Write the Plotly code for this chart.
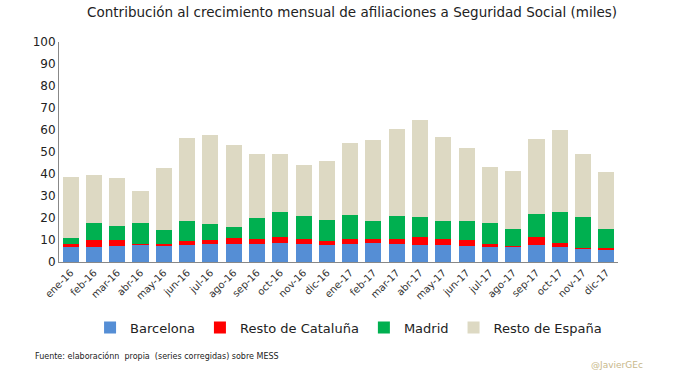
import plotly.graph_objects as go

months = ["ene-16","feb-16","mar-16","abr-16","may-16","jun-16","jul-16","ago-16","sep-16","oct-16","nov-16","dic-16",
          "ene-17","feb-17","mar-17","abr-17","may-17","jun-17","jul-17","ago-17","sep-17","oct-17","nov-17","dic-17"]
barcelona = [7.0,7.0,7.4,7.9,7.4,7.9,8.3,8.3,8.3,8.8,8.3,7.9,
             8.3,8.8,8.3,7.9,7.9,7.4,7.0,7.0,7.9,7.0,6.0,5.6]
resto_cat = [1.3,3.1,2.7,0.4,0.9,1.8,1.8,2.7,2.3,2.7,2.3,1.8,
             2.3,1.8,2.3,3.6,2.7,2.7,1.3,0.4,3.6,1.8,0.5,0.9]
madrid = [2.7,7.7,6.4,9.5,6.4,9.0,7.3,5.0,9.5,11.3,10.4,9.5,
          10.9,8.1,10.4,9.0,8.1,8.6,9.5,7.7,10.4,14.0,14.0,8.6]
resto_esp = [27.7,21.8,21.7,14.5,28.0,37.6,40.3,37.2,29.0,26.3,23.1,26.7,
             32.6,36.7,39.4,44.0,38.1,33.1,25.4,26.3,34.0,37.2,28.6,25.8]
y_ticks = [0,10,20,30,40,50,60,70,80,90,100]

FONT = "DejaVu Sans"
fig = go.Figure()
for name, vals, col in [("Barcelona", barcelona, "#558ED5"),
                        ("Resto de Cataluña", resto_cat, "#FF0000"),
                        ("Madrid", madrid, "#00B050"),
                        ("Resto de España", resto_esp, "#DDD9C3")]:
    fig.add_trace(go.Bar(x=months, y=vals, name=name, marker=dict(color=col, line=dict(width=0))))

fig.update_layout(
    barmode="stack", bargap=0.31,
    width=677, height=378,
    margin=dict(l=59, r=59, t=42, b=116, autoexpand=False),
    plot_bgcolor="white", paper_bgcolor="white",
    font=dict(family=FONT, color="#222"),
    title=dict(text="Contribución al crecimiento mensual de afiliaciones a Seguridad Social (miles)",
               x=0.52, xanchor="center", y=0.968, yanchor="middle", yref="container",
               font=dict(size=13.5, color="#222")),
    showlegend=True,
    legend=dict(orientation="h", x=0.518, xanchor="center", y=-0.298, yanchor="middle",
                font=dict(size=13, color="#222"), itemwidth=30, traceorder="normal"),
    xaxis=dict(showline=True, linecolor="#888", linewidth=1, ticks="", tickangle=-45, automargin=False,
               tickfont=dict(size=10, color="#333"), showgrid=False),
    yaxis=dict(range=[0,100], tickvals=y_ticks, showline=True, linecolor="#888", linewidth=1, automargin=False,
               showgrid=False, zeroline=False, tickfont=dict(size=12, color="#222"), ticks=""),
    annotations=[
        dict(text="Fuente: elaboraciónn  propia  (series corregidas) sobre MESS", xref="paper", yref="paper",
             x=-0.046, y=-0.429, xanchor="left", yanchor="middle", showarrow=False,
             font=dict(size=8, color="#222")),
        dict(text="@JavierGEc", xref="paper", yref="paper", x=0.948, y=-0.47, xanchor="left",
             yanchor="middle", showarrow=False, font=dict(size=9, color="#C8B88A")),
    ],
)
fig.write_html("out.html", config={"displayModeBar": False},
               post_script="document.body.style.margin='0';document.body.style.overflow='hidden';")
